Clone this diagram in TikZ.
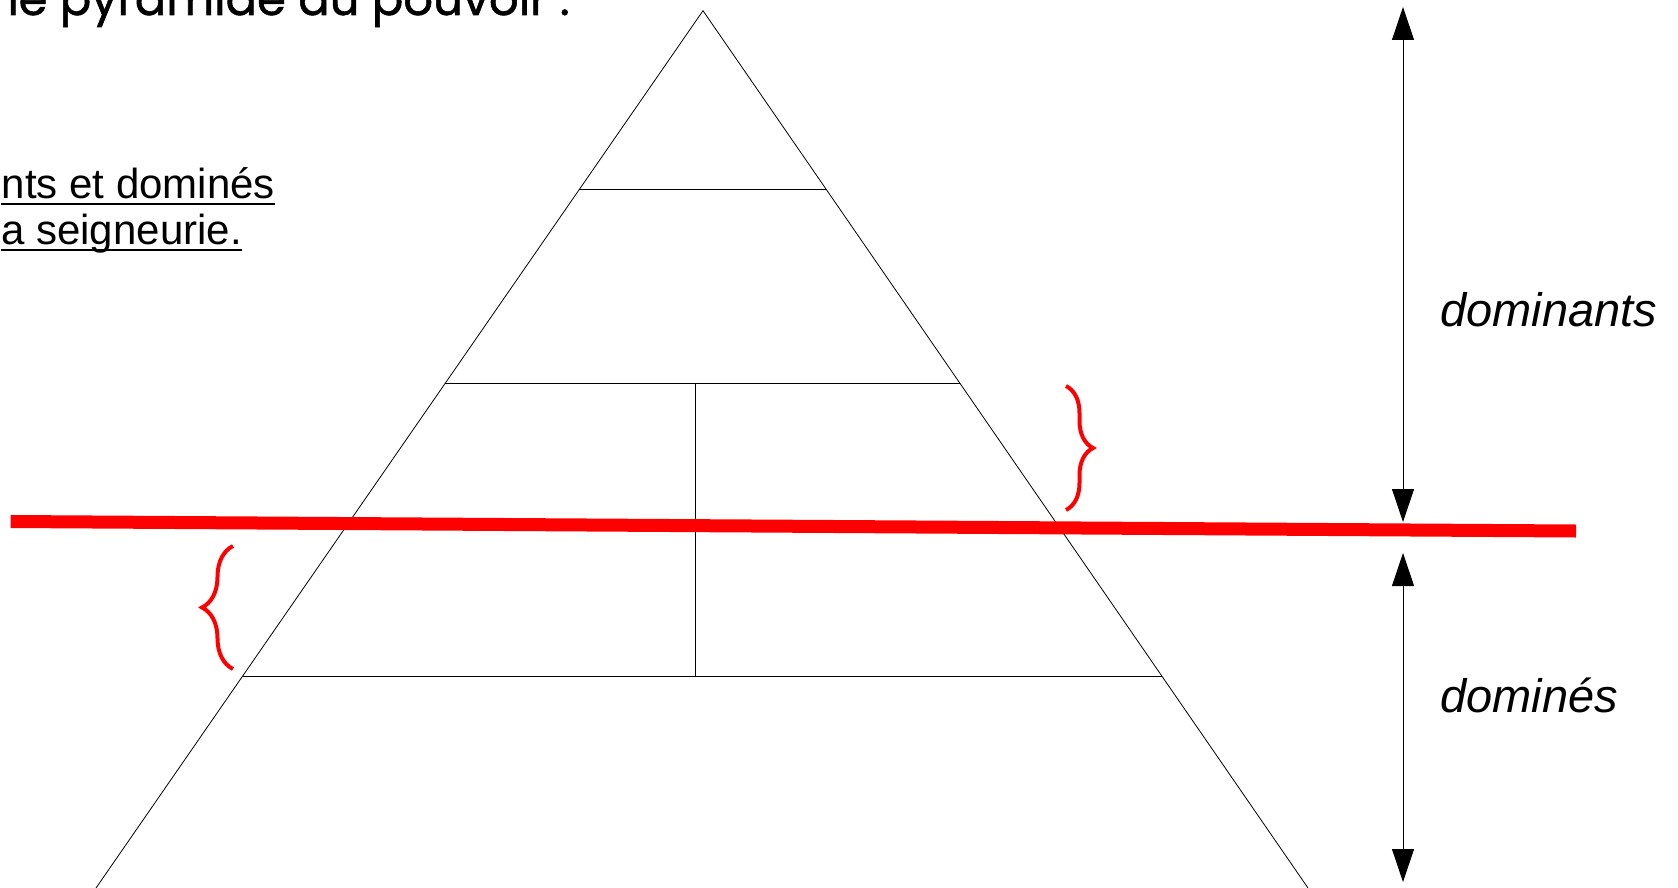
\documentclass[tikz,border=0pt]{standalone}
\usepackage{fontspec}
\setmainfont{Liberation Sans}
\newfontfamily\titlefont{Poppins}[FakeBold=1.2]
\usetikzlibrary{arrows.meta,calc,decorations.pathreplacing}

\begin{document}
\begin{tikzpicture}[x=1pt,y=-1pt,
    pyr/.style={line width=0.8pt},
    bar/.style={red, line width=13pt},
    accolade/.style={red, line width=4pt, decorate, decoration={brace, amplitude=#1}},
    dimarrow/.style={line width=0.9pt, {Triangle[length=33pt,width=22pt]}-{Triangle[length=33pt,width=22pt]}},
    lab/.style={font=\fontsize{47}{56}\selectfont\itshape, anchor=base west, inner sep=0pt},
    head/.style={font=\fontsize{42}{50}\selectfont, anchor=base east, inner sep=0pt},
    uline/.style={line width=1.8pt}]

    \useasboundingbox (0,0) rectangle (1678,888);
    \clip (0,0) rectangle (1678,888);

    % Headings
    \node[font=\titlefont\fontsize{46.5}{54}\selectfont, anchor=base east, inner sep=0pt] (title) at (570,15) {Une pyramide du pouvoir :};
    \node[head] (sub1) at (275,198) {nts et dominés};
    \node[head] (sub2) at (242,244) {a seigneurie.};
    \draw[uline] ([yshift=-6pt]sub1.base west) -- ([yshift=-6pt]sub1.base east);
    \draw[uline] ([yshift=-6pt]sub2.base west) -- ([yshift=-6pt]sub2.base east);

    % Pyramid
    \coordinate (apex) at (703,10.7);
    \coordinate (bl) at (96,888);
    \coordinate (br) at (1308,888);
    \draw[pyr] (bl) -- (apex) -- (br);

    % Levels
    \foreach \t/\n in {0.2037/one,0.4244/two,0.7583/three}
        \draw[pyr] ($(apex)!\t!(bl)$) coordinate (\n l) -- ($(apex)!\t!(br)$) coordinate (\n r);

    \coordinate (splittop) at (695,384);
    \coordinate (splitbot) at (695,677);
    \draw[pyr] (splittop) -- (splitbot);

    % Red line
    \coordinate (barl) at (10.7,521.5);
    \coordinate (barr) at (1576,531);
    \draw[bar] (barl) -- (barr);

    % Braces
    \draw[accolade=31pt] (233,669) -- (233,546);
    \draw[accolade=27pt] (1066,386) -- (1066,510);

    % Arrows
    \coordinate (domtop) at (1403,7);
    \coordinate (dombot) at (1403,522);
    \coordinate (dtop) at (1403,553);
    \coordinate (dbot) at (1403,882);
    \draw[dimarrow] (domtop) -- (dombot);
    \draw[dimarrow] (dtop) -- (dbot);

    % Labels
    \node[lab] (dominants) at (1440,326) {dominants};
    \node[lab] (domines) at (1440,712) {dominés};
\end{tikzpicture}
\end{document}
